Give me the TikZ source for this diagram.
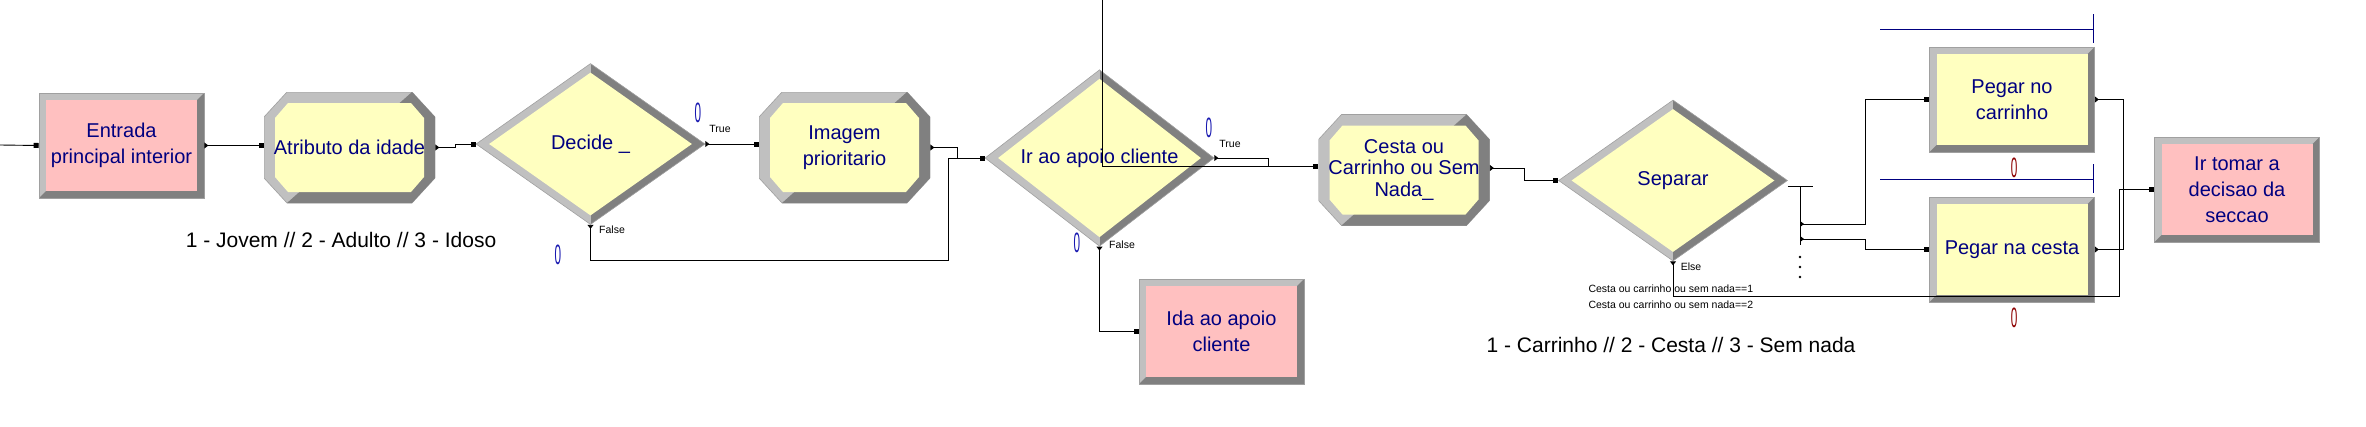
\documentclass[tikz,border=0pt]{standalone}
\usepackage{fontspec}
\setmainfont{Liberation Sans}
\usepackage{graphicx}
\usetikzlibrary{arrows.meta,shapes.geometric}
\definecolor{pinkfill}{RGB}{255,192,192}
\definecolor{yelfill}{RGB}{255,255,192}
\definecolor{bevlight}{RGB}{192,192,192}
\definecolor{bevdark}{RGB}{128,128,128}
\definecolor{bevedge}{RGB}{160,160,160}
\definecolor{navy}{RGB}{0,0,128}
\definecolor{cntblue}{RGB}{24,24,176}
\definecolor{cntred}{RGB}{140,0,0}
\newcommand{\pbb}{path picture bounding box}
\newcommand{\cnt}[1]{\scalebox{0.42}[1]{#1}}

\begin{document}
\begin{tikzpicture}[x=1pt, y=-1pt,
    module/.style = {draw=bevedge, fill=bevlight, line width=0.6pt, inner sep=0pt, text=navy, align=center,
      font=\fontsize{20}{26}\selectfont},
    station/.style = {module, rectangle, minimum width=165, minimum height=105,
      path picture={
        \fill[bevdark] (\pbb.south west) -- ([xshift=7pt,yshift=7pt]\pbb.south west)
          -- ([xshift=-7pt,yshift=7pt]\pbb.south east) -- ([xshift=-7pt,yshift=-7pt]\pbb.north east)
          -- (\pbb.north east) -- (\pbb.south east) -- cycle;
        \fill[#1] ([xshift=7pt,yshift=7pt]\pbb.south west) rectangle ([xshift=-7pt,yshift=-7pt]\pbb.north east);}},
    assign/.style = {module, rectangle, draw=none, fill=white, minimum width=171, minimum height=111,
      path picture={
        \filldraw[fill=bevlight, draw=bevedge, line width=0.6pt]
          ([yshift=-25pt]\pbb.north west) -- ([xshift=23pt]\pbb.north west)
          -- ([xshift=-23pt]\pbb.north east) -- ([yshift=-25pt]\pbb.north east)
          -- ([yshift=25pt]\pbb.south east) -- ([xshift=-23pt]\pbb.south east)
          -- ([xshift=23pt]\pbb.south west) -- ([yshift=25pt]\pbb.south west) -- cycle;
        \fill[bevdark] ([xshift=23pt]\pbb.south west) -- ([xshift=-23pt]\pbb.north east)
          -- ([yshift=-25pt]\pbb.north east) -- ([yshift=25pt]\pbb.south east)
          -- ([xshift=-23pt]\pbb.south east) -- cycle;
        \fill[yelfill] ([xshift=11pt,yshift=-26pt]\pbb.north west) -- ([xshift=24pt,yshift=-11pt]\pbb.north west)
          -- ([xshift=-24pt,yshift=-11pt]\pbb.north east) -- ([xshift=-11pt,yshift=-26pt]\pbb.north east)
          -- ([xshift=-11pt,yshift=26pt]\pbb.south east) -- ([xshift=-24pt,yshift=11pt]\pbb.south east)
          -- ([xshift=24pt,yshift=11pt]\pbb.south west) -- ([xshift=11pt,yshift=26pt]\pbb.south west) -- cycle;}},
    decide/.style = {module, diamond, minimum width=229, minimum height=161,
      path picture={
        \fill[bevdark] (\pbb.north) -- (\pbb.north east) -- (\pbb.south east) -- (\pbb.south) -- cycle;
        \fill[yelfill] ([yshift=-9pt]\pbb.north) -- ([xshift=-13pt]\pbb.east)
          -- ([yshift=9pt]\pbb.south) -- ([xshift=13pt]\pbb.west) -- cycle;}},
    wire/.style = {draw, line width=0.9pt},
    link/.style = {wire, {Triangle[reversed,length=4pt,width=6pt]}-{Square[length=5pt,width=5pt]}},
    note/.style = {font=\fontsize{21}{23}\selectfont},
    tag/.style = {font=\fontsize{10.5}{12}\selectfont},
    cntb/.style = {text=cntblue, font=\fontsize{28}{28}\selectfont},
    cntr/.style = {text=cntred, font=\fontsize{28}{28}\selectfont},
    queue/.style = {draw=navy, line width=0.9pt}]
    \useasboundingbox (0,0) rectangle (2366,426);

    \node[station=pinkfill] (ent) at (121.5,145.5) {Entrada\\principal interior};
    \node[assign] (atr) at (349.5,147.5) {Atributo da idade};
    \node[decide] (dec) at (590.5,144) {Decide \_};
    \node[assign] (img) at (844.5,147.5) {Imagem\\prioritario};
    \node[decide] (ira) at (1099.5,158) {Ir ao apoio cliente};
    \node[station=pinkfill] (ida) at (1221.5,331.5) {Ida ao apoio\\cliente};
    \node[assign, font=\fontsize{20}{21.5}\selectfont] (ces) at (1404,170) {Cesta ou\\Carrinho ou Sem\\Nada\_};
    \node[decide] (sep) at (1673,180.5) {Separar};
    \node[station=yelfill] (pca) at (2012,99.5) {Pegar no\\carrinho};
    \node[station=yelfill] (pce) at (2012,249.5) {Pegar na cesta};
    \node[station=pinkfill] (irt) at (2237,189.5) {Ir tomar a\\decisao da\\seccao};

    \coordinate (src) at (0,145);
    \coordinate (top) at (1102,0);
    \coordinate (fork) at (1800,187);
    \coordinate (out1) at (1800,224);
    \coordinate (out2) at (1800,239);

    \draw[wire, -{Square[length=5pt,width=5pt]}] (src) -- (ent.west);
    \draw[link] (ent.east) -- (ent.east -| atr.west);
    \draw[link] (atr.east) -- ++(20,0) |- (dec.west);
    \draw[link] (dec.east) -- (dec.east -| img.west);
    \draw[link] (dec.south) -- ++(0,36) -| ([xshift=-36pt]ira.west) -- (ira.west);
    \draw[link] (img.east) -- ++(27,0) |- (ira.west);
    \draw[link] (ira.east) -- ++(54,0) |- ([yshift=4pt]ces.west);
    \draw[wire, -{Square[length=5pt,width=5pt]}] (top) |- ([yshift=4pt]ces.west);
    \draw[link] (ira.south) |- (ida.west);
    \draw[link] ([yshift=2pt]ces.east) -- ++(35,0) |- (sep.west);
    \draw[wire] ([yshift=-6pt]sep.east) -- ++(25,0);
    \draw[wire] (fork) -- ++(0,58);
    \draw[link] (out1) -- ++(65,0) |- (pca.west);
    \draw[link] (out2) -- ++(65,0) |- (pce.west);
    \foreach \yy in {257,267,277}
        \fill (1800,\yy) circle (1.3);
    \draw[link] (sep.south) -- ++(0,35) -| ([xshift=-35pt]irt.west) -- (irt.west);
    \draw[link] (pca.east) -- ++(29,0) |- (irt.west);
    \draw[link] (pce.east) -- ++(29,0) |- (irt.west);

    \draw[queue] (1880,29) -- (2093,29) (2093,14) -- (2093,43);
    \draw[queue] (1880,179) -- (2093,179) (2093,164) -- (2093,193);

    \node[note] (agecode) at (341,240) {1 - Jovem // 2 - Adulto // 3 - Idoso};
    \node[note] (cartcode) at (1671,345) {1 - Carrinho // 2 - Cesta // 3 - Sem nada};
    \node[tag] (dectrue) at (720,129) {True};
    \node[tag] (decfalse) at (612,230) {False};
    \node[tag] (iratrue) at (1230,144) {True};
    \node[tag] (irafalse) at (1122,245) {False};
    \node[tag] (sepelse) at (1691,267) {Else};
    \node[tag, anchor=west] (cond1) at (1585,289) {Cesta ou carrinho ou sem nada==1};
    \node[tag, anchor=west] (cond2) at (1585,305) {Cesta ou carrinho ou sem nada==2};
    \node[cntb] (dect) at (698,113) {\cnt{0}};
    \node[cntb] (decf) at (558,255) {\cnt{0}};
    \node[cntb] (irat) at (1209,128) {\cnt{0}};
    \node[cntb] (iraf) at (1077,243) {\cnt{0}};
    \node[cntr] (pcaq) at (2014,168) {\cnt{0}};
    \node[cntr] (pceq) at (2014,318) {\cnt{0}};
\end{tikzpicture}
\end{document}
